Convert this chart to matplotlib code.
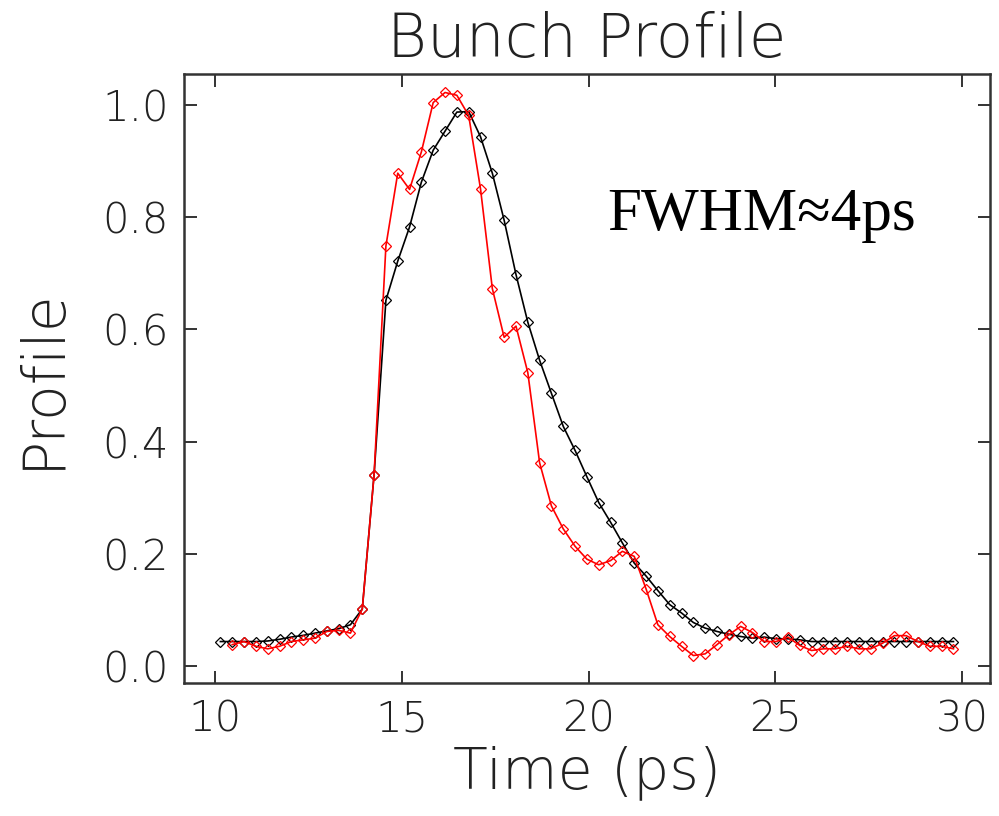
import matplotlib
matplotlib.use('Agg')
import matplotlib.pyplot as plt
import numpy as np

# time grid (ps)
time_ps = [10.152, 10.468, 10.785, 11.101, 11.417, 11.734, 12.050, 12.366, 12.682, 12.999,
           13.315, 13.631, 13.948, 14.264, 14.580, 14.897, 15.213, 15.529, 15.845, 16.162,
           16.478, 16.794, 17.111, 17.427, 17.743, 18.060, 18.376, 18.692, 19.008, 19.325,
           19.641, 19.957, 20.274, 20.590, 20.906, 21.223, 21.539, 21.855, 22.171, 22.488,
           22.804, 23.120, 23.437, 23.753, 24.069, 24.386, 24.702, 25.018, 25.334, 25.651,
           25.967, 26.283, 26.600, 26.916, 27.232, 27.549, 27.865, 28.181, 28.497, 28.814,
           29.130, 29.446, 29.763]

profile_black = [0.043, 0.043, 0.043, 0.043, 0.044, 0.047, 0.051, 0.054, 0.058, 0.062,
                 0.066, 0.073, 0.101, 0.341, 0.652, 0.722, 0.783, 0.863, 0.920, 0.954,
                 0.988, 0.989, 0.944, 0.879, 0.795, 0.698, 0.613, 0.545, 0.486, 0.427,
                 0.384, 0.337, 0.291, 0.256, 0.219, 0.183, 0.160, 0.134, 0.109, 0.094,
                 0.077, 0.067, 0.061, 0.056, 0.052, 0.049, 0.051, 0.048, 0.048, 0.046,
                 0.043, 0.043, 0.043, 0.043, 0.043, 0.043, 0.043, 0.043, 0.043, 0.043,
                 0.043, 0.043, 0.043]

# red trace has no point at the first time step
profile_red = [np.nan, 0.0375, 0.043, 0.0345, 0.030, 0.0345, 0.043, 0.046, 0.049, 0.061,
               0.063, 0.058, 0.101, 0.341, 0.749, 0.879, 0.850, 0.917, 1.005, 1.023,
               1.018, 0.982, 0.851, 0.673, 0.586, 0.606, 0.523, 0.362, 0.285, 0.244,
               0.213, 0.190, 0.180, 0.1875, 0.204, 0.195, 0.137, 0.073, 0.052, 0.0345,
               0.018, 0.021, 0.0375, 0.055, 0.070, 0.059, 0.043, 0.043, 0.051, 0.036,
               0.027, 0.030, 0.030, 0.0345, 0.030, 0.030, 0.040, 0.0535, 0.0535, 0.043,
               0.0345, 0.0345, 0.030]

x_ticks = [10, 15, 20, 25, 30]
y_ticks = [0.0, 0.2, 0.4, 0.6, 0.8, 1.0]
y_tick_labels = ['0.0', '0.2', '0.4', '0.6', '0.8', '1.0']

TXT = '#222222'
LABEL_FONT = dict(family='DejaVu Sans', weight=200, color=TXT)

fig = plt.figure(figsize=(9.99, 8.16), dpi=100)
ax = fig.add_axes([184 / 999, 1 - 683 / 816, (990 - 184) / 999, (683 - 74) / 816])

ax.plot(time_ps, profile_black, color='black', lw=1.2, marker='D', ms=5,
        mfc='none', mec='black', mew=0.9)
ax.plot(time_ps, profile_red, color='#ff0000', lw=1.2, marker='D', ms=5,
        mfc='none', mec='#ff0000', mew=0.9)

ax.set_xlim(9.179, 30.74)
ax.set_ylim(-0.031, 1.056)
ax.set_xticks(x_ticks)
ax.set_yticks(y_ticks)
ax.set_yticklabels(y_tick_labels)
ax.tick_params(direction='in', length=9, width=1.4, top=True, right=True,
               labelsize=30, colors='#333333', labelcolor=TXT, pad=11)
for lab in ax.get_xticklabels() + ax.get_yticklabels():
    lab.set_fontweight(200)
for sp in ax.spines.values():
    sp.set_linewidth(1.8)
    sp.set_color('#333333')

ax.set_title('Bunch Profile', fontsize=44, pad=12, **LABEL_FONT)
ax.set_xlabel('Time (ps)', fontsize=41, labelpad=4, **LABEL_FONT)
ax.set_ylabel('Profile', fontsize=42, labelpad=22, **LABEL_FONT)

ax.text(20.51, 0.777, 'FWHM≈4ps', fontsize=44, color='black',
        family=['Liberation Serif', 'DejaVu Serif'], ha='left', va='baseline')

fig.savefig('out.png', dpi=100)
